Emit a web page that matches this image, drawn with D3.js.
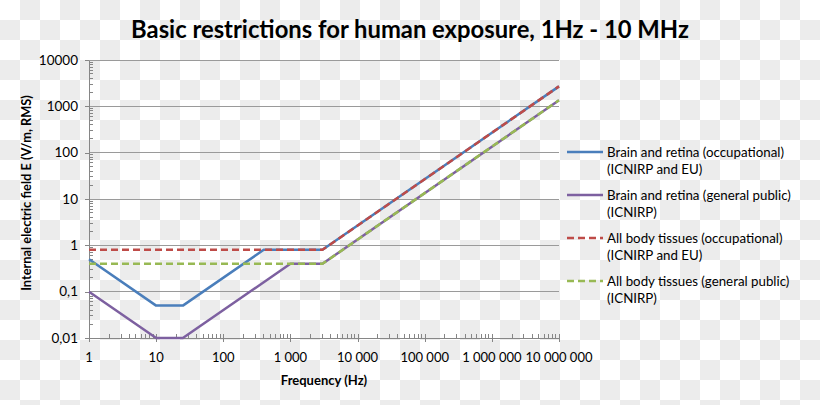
<!DOCTYPE html>
<html><head><meta charset="utf-8">
<script src="https://cdn.jsdelivr.net/npm/d3@7"></script>
<style>html,body{margin:0;padding:0;background:#fff}svg{display:block}</style>
</head><body>
<svg id="c" width="820" height="405"></svg>
<script>
const title = "Basic restrictions for human exposure, 1Hz - 10 MHz";
const xTitle = "Frequency (Hz)";
const yTitle = "Internal electric field E (V/m, RMS)";
const xTicks = [1, 10, 100, 1000, 10000, 100000, 1000000, 10000000];
const xTickLabels = ["1", "10", "100", "1 000", "10 000", "100 000", "1 000 000", "10 000 000"];
const yTicks = [0.01, 0.1, 1, 10, 100, 1000, 10000];
const yTickLabels = ["0,01", "0,1", "1", "10", "100", "1000", "10000"];

const brainOccF = [1, 10, 25, 400, 3000, 10000000];
const brainOccE = [0.5, 0.05, 0.05, 0.8, 0.8, 2700];
const brainPubF = [1, 10, 25, 1000, 3000, 10000000];
const brainPubE = [0.1, 0.01, 0.01, 0.4, 0.4, 1350];
const bodyOccF = [1, 3000, 10000000];
const bodyOccE = [0.8, 0.8, 2700];
const bodyPubF = [1, 3000, 10000000];
const bodyPubE = [0.4, 0.4, 1350];

const seriesNames = [
  ["Brain and retina (occupational)", "(ICNIRP and EU)"],
  ["Brain and retina (general public)", "(ICNIRP)"],
  ["All body tissues (occupational)", "(ICNIRP and EU)"],
  ["All body tissues (general public)", "(ICNIRP)"]
];
const colors = ["#4a7ebb", "#7d60a0", "#be4b48", "#98b954"];
const dashes = [null, null, "7,4", "7,4"];
const seriesF = [brainOccF, brainPubF, bodyOccF, bodyPubF];
const seriesE = [brainOccE, brainPubE, bodyOccE, bodyPubE];

const svg = d3.select("#c");
const font = "Lato, 'Open Sans', sans-serif";

// checkerboard background
const defs = svg.append("defs");
const pat = defs.append("pattern").attr("id", "chk").attr("patternUnits", "userSpaceOnUse")
  .attr("width", 40).attr("height", 40);
pat.append("rect").attr("width", 40).attr("height", 40).attr("fill", "#ffffff");
pat.append("rect").attr("x", 20).attr("y", 0).attr("width", 20).attr("height", 20).attr("fill", "#ececec");
pat.append("rect").attr("x", 0).attr("y", 20).attr("width", 20).attr("height", 20).attr("fill", "#ececec");
svg.append("rect").attr("width", 820).attr("height", 405).attr("fill", "url(#chk)");

const x = d3.scaleLog().domain([1, 1e7]).range([89, 559]);
const y = d3.scaleLog().domain([0.01, 10000]).range([338, 60]);

// gridlines
svg.append("g").selectAll("line").data(yTicks.slice(1)).join("line")
  .attr("x1", x(1)).attr("x2", x(1e7))
  .attr("y1", d => y(d)).attr("y2", d => y(d))
  .attr("stroke", "#9a9a9a").attr("stroke-width", 1).attr("shape-rendering", "crispEdges");

const axisColor = "#868686";
const minorsX = [], minorsY = [];
for (let e = 0; e < 7; e++) for (let m = 2; m <= 9; m++) minorsX.push(m * Math.pow(10, e));
for (let e = -2; e < 4; e++) for (let m = 2; m <= 9; m++) minorsY.push(m * Math.pow(10, e));

// Y axis
const yAxisG = svg.append("g").attr("transform", `translate(${x(1)},0)`);
yAxisG.call(d3.axisLeft(y).tickValues(yTicks).tickFormat("").tickSize(4).tickSizeOuter(0));
yAxisG.selectAll("path,line").attr("stroke", axisColor).attr("shape-rendering", "crispEdges");
yAxisG.append("g").selectAll("line").data(minorsY).join("line")
  .attr("x1", 0).attr("x2", 4).attr("y1", d => y(d)).attr("y2", d => y(d))
  .attr("stroke", axisColor).attr("shape-rendering", "crispEdges");
svg.append("g").selectAll("text").data(yTicks).join("text")
  .attr("x", 78).attr("y", d => y(d)).attr("dy", "0.35em")
  .attr("text-anchor", "end").attr("font-family", font).attr("font-size", 13.5).attr("fill", "#000")
  .text((d, i) => yTickLabels[i]);

// X axis
const xAxisG = svg.append("g").attr("transform", `translate(0,${y(0.01)})`);
xAxisG.call(d3.axisBottom(x).tickValues(xTicks).tickFormat("").tickSize(4).tickSizeOuter(0));
xAxisG.selectAll("path,line").attr("stroke", axisColor).attr("shape-rendering", "crispEdges");
xAxisG.selectAll(".tick line").attr("y1", -4);
xAxisG.append("g").selectAll("line").data(minorsX).join("line")
  .attr("x1", d => x(d)).attr("x2", d => x(d)).attr("y1", 0).attr("y2", -4)
  .attr("stroke", axisColor).attr("shape-rendering", "crispEdges");
svg.append("g").selectAll("text").data(xTicks).join("text")
  .attr("x", d => x(d)).attr("y", 362)
  .attr("text-anchor", "middle").attr("font-family", font).attr("font-size", 13).attr("fill", "#000")
  .text((d, i) => xTickLabels[i]);

// series
const line = d3.line().x(d => x(d[0])).y(d => y(d[1]));
seriesF.forEach((fs, i) => {
  const pts = fs.map((f, k) => [f, seriesE[i][k]]);
  svg.append("path").attr("d", line(pts)).attr("fill", "none")
    .attr("stroke", colors[i]).attr("stroke-width", 2.5)
    .attr("stroke-dasharray", dashes[i]).attr("stroke-linejoin", "round");
});

// titles
svg.append("text").attr("x", 410).attr("y", 38).attr("text-anchor", "middle")
  .attr("font-family", font).attr("font-weight", "bold").attr("font-size", 23.8).attr("fill", "#000")
  .text(title);
svg.append("text").attr("x", 324).attr("y", 385).attr("text-anchor", "middle")
  .attr("font-family", font).attr("font-weight", "bold").attr("font-size", 13).attr("fill", "#000")
  .text(xTitle);
svg.append("text").attr("transform", "translate(31,193) rotate(-90)").attr("text-anchor", "middle")
  .attr("font-family", font).attr("font-weight", "bold").attr("font-size", 12.8).attr("fill", "#000")
  .text(yTitle);

// legend
const lg = svg.append("g");
seriesNames.forEach((nm, i) => {
  const ly = 152 + i * 43;
  lg.append("line").attr("x1", 567).attr("x2", 603).attr("y1", ly).attr("y2", ly)
    .attr("stroke", colors[i]).attr("stroke-width", 2.5).attr("stroke-dasharray", dashes[i]);
  nm.forEach((t, k) => {
    lg.append("text").attr("x", 607).attr("y", ly + k * 17).attr("dy", "0.35em")
      .attr("font-family", font).attr("font-size", 13.3).attr("fill", "#000").text(t);
  });
});
</script>
</body></html>
